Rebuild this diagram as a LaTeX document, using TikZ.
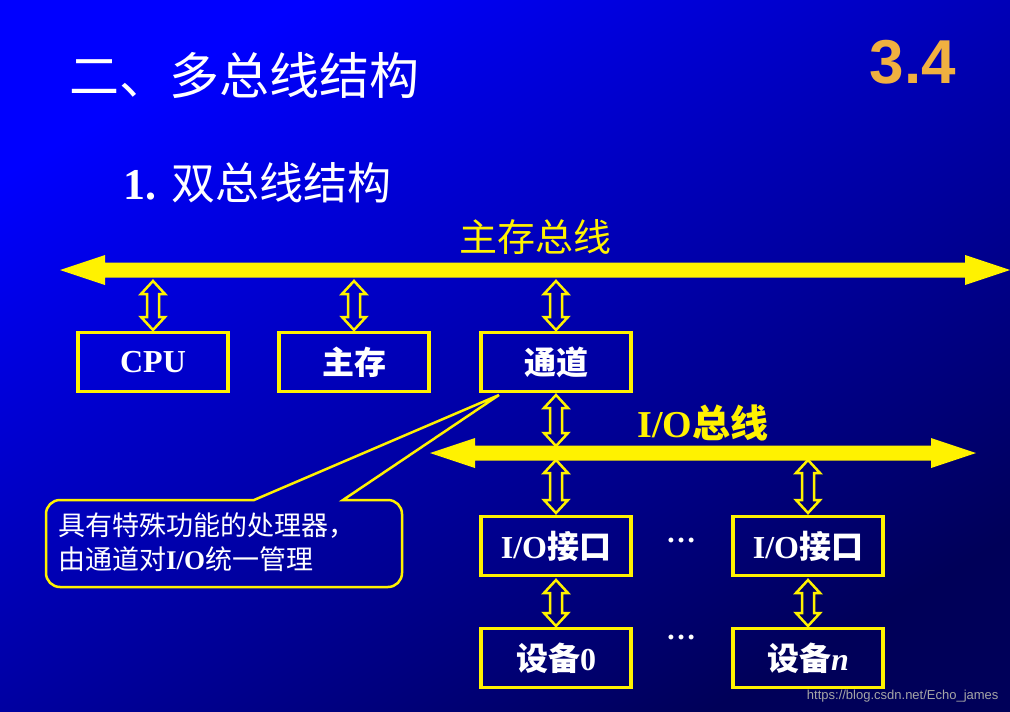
\documentclass[tikz,border=0pt]{standalone}
\usepackage{fontspec}
\setmainfont{Liberation Serif}
\newfontfamily\cjk{Noto Sans CJK SC}
\newfontfamily\hsans{Liberation Sans}
\begin{document}
\begin{tikzpicture}[x=1pt,y=-1pt,
  box/.style={draw=yellow,line width=3.5pt,minimum width=150pt,minimum height=59pt,text=white,font=\bfseries\fontsize{32}{34}\selectfont},
  hol/.style={draw=yellow,line width=2.5pt,line join=miter},
  bus/.style={fill=yellow},
  dots/.style={text=white,font=\bfseries\fontsize{30}{30}\selectfont}]
\useasboundingbox (0,0) rectangle (1010,712);
\shade[top color=blue!100, bottom color=blue!35!black, shading angle=30] (0,0) rectangle (1010,712);
\newcommand\vda[3]{\draw[hol] (#1,#2) -- ({#1+12},{#2+13}) -- ({#1+6},{#2+13}) -- ({#1+6},{#3-13}) -- ({#1+12},{#3-13}) -- (#1,#3) -- ({#1-12},{#3-13}) -- ({#1-6},{#3-13}) -- ({#1-6},{#2+13}) -- ({#1-12},{#2+13}) -- cycle;}
\newcommand\hda[3]{\fill[bus] (#2,#1) -- ({#2+45},{#1-15}) -- ({#2+45},{#1-7.5}) -- ({#3-45},{#1-7.5}) -- ({#3-45},{#1-15}) -- (#3,#1) -- ({#3-45},{#1+15}) -- ({#3-45},{#1+7.5}) -- ({#2+45},{#1+7.5}) -- ({#2+45},{#1+15}) -- cycle;}
\node[anchor=west,text=white,font=\cjk\fontsize{50}{54}\selectfont] (title) at (66,75) {二、多总线结构};
\node[text={rgb,255:red,240;green,176;blue,64},font=\hsans\bfseries\fontsize{62}{64}\selectfont] (num) at (913,62) {3.4};
\node[anchor=west,text=white,font=\fontsize{44}{48}\selectfont] (sub) at (120,183) {\textbf{1.} {\cjk 双总线结构}};
\node[text=yellow,font=\cjk\fontsize{38}{42}\selectfont] (mlab) at (535,237) {主存总线};
\hda{270}{60}{1010}
\node[box] (cpu) at (153,362) {CPU};
\node[box] (mem) at (354,362) {\cjk 主存};
\node[box] (ch) at (556,362) {\cjk 通道};
\vda{153}{281}{330}
\vda{354}{281}{330}
\vda{556}{281}{330}
\vda{556}{395}{446}
\node[text=yellow,font=\bfseries\fontsize{38}{40}\selectfont] (iolab) at (703,423) {I/O{\cjk 总线}};
\hda{453}{430}{976}
\vda{556}{460}{513}
\vda{808}{460}{513}
\node[box] (if1) at (556,546) {I/O{\cjk 接口}};
\node[box] (if2) at (808,546) {I/O{\cjk 接口}};
\node[dots] (d1) at (681,540) {…};
\vda{556}{580}{626}
\vda{808}{580}{626}
\node[box] (dev0) at (556,658) {{\cjk 设备}0};
\node[box] (devn) at (808,658) {{\cjk 设备}\textit{n}};
\node[dots] (d2) at (681,637) {…};
\coordinate (tip) at (499,395);
\draw[yellow,line width=2.5pt,line join=miter] (254,500) -- (tip) -- (343,500) [rounded corners=14pt] -- (402,500) -- (402,587) -- (46,587) -- (46,500) [sharp corners] -- cycle;
\node[anchor=north west,align=left,text=white,font=\fontsize{27}{34}\selectfont,inner sep=0] (note) at (58,513) {{\cjk 具有特殊功能的处理器，}\\{\cjk 由通道对}\textbf{I/O}{\cjk 统一管理}};
\node[anchor=south east,text=gray!70,font=\hsans\fontsize{13}{14}\selectfont] (wm) at (1002,706) {https://blog.csdn.net/Echo\_james};
\end{tikzpicture}
\end{document}
